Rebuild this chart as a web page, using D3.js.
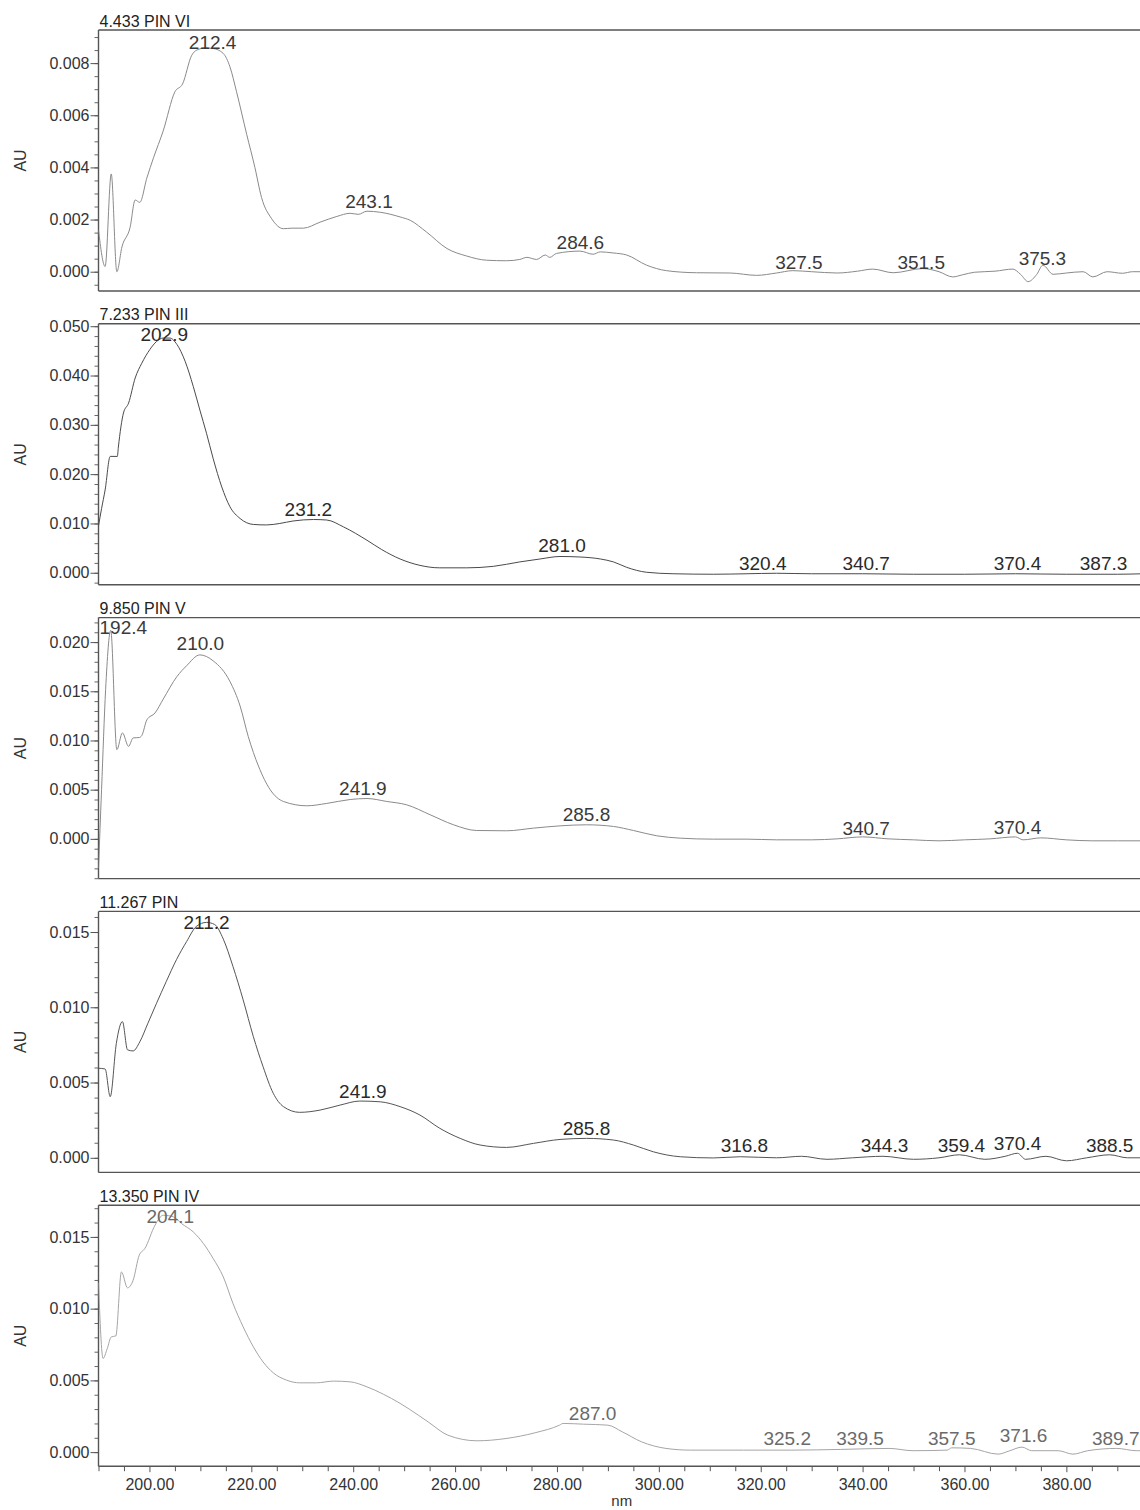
<!DOCTYPE html>
<html><head><meta charset="utf-8">
<script src="https://cdn.jsdelivr.net/npm/d3@7"></script>
<style>
html,body{margin:0;padding:0;background:#fff;}
svg{display:block;font-family:"Liberation Sans",Arial,sans-serif;}
</style></head><body>
<svg id="chart" width="1140" height="1510"></svg>
<script>
// ---------- DATA ----------
const panelTitles = ["4.433 PIN VI", "7.233 PIN III", "9.850 PIN V", "11.267 PIN", "13.350 PIN IV"];
const xTickLabels = [200, 220, 240, 260, 280, 300, 320, 340, 360, 380];
const xAxisTitle = "nm";
const yAxisTitle = "AU";

const yTicks1 = [0, 0.002, 0.004, 0.006, 0.008];
const yTicks2 = [0, 0.01, 0.02, 0.03, 0.04, 0.05];
const yTicks3 = [0, 0.005, 0.010, 0.015, 0.020];
const yTicks4 = [0, 0.005, 0.010, 0.015];
const yTicks5 = [0, 0.005, 0.010, 0.015];

const nm1 = [190.0,191.3,192.5,193.6,194.6,196.2,197.2,198.1,199.5,200.8,202.7,205.0,206.5,208.3,209.3,211.0,212.5,214.5,215.8,217.1,219.1,220.7,222.0,224.0,226.3,228.0,230.2,233.5,236.8,239.4,241.0,242.7,245.3,249.2,251.2,254.4,258.4,262.3,266.2,270.1,272.7,274.1,276.0,277.7,278.6,279.9,284.5,287.1,288.5,291.0,293.7,297.6,301.5,307.4,314.0,319.2,323.1,326.3,330,335,339,342,346,351.8,355,357.7,359.6,362,366,369.5,371,372.5,374.2,375.4,377.4,380,383.3,385.2,388,391,393,395];
const au1 = [0.0016,0.0002,0.00375,0.0,0.00095,0.0017,0.00275,0.00266,0.0036,0.00437,0.0054,0.0069,0.0072,0.0083,0.0085,0.00858,0.00856,0.00837,0.00786,0.0069,0.00526,0.0040,0.00285,0.00203,0.00165,0.00167,0.00167,0.0019,0.00212,0.00224,0.0022,0.00232,0.00228,0.0021,0.00197,0.00152,0.00089,0.0006,0.00044,0.00042,0.00047,0.00055,0.00047,0.00064,0.00055,0.0007,0.00079,0.00067,0.00076,0.00072,0.00064,0.00025,0.00004,-0.00004,-0.00005,-0.00014,-0.00005,0.00004,0.0,-0.00005,0.00002,0.0001,-0.00004,0.00012,0.0,-0.0002,-0.00012,-0.00002,0.00002,0.0001,-0.0001,-0.00038,-0.0001,0.00025,-0.0001,-0.00005,0.0,-0.0002,0.0,-0.00006,0.0,0.0];
const peakNm1 = [212.4, 243.1, 284.6, 327.5, 351.5, 375.3];
const peakAu1 = [0.00847, 0.00238, 0.00081, 0.00002, 0.00002, 0.00018];

const nm2 = [190.0,190.6,191.3,192.3,193.7,193.9,194.9,195.9,197.2,198.5,200.1,201.4,202.7,204.0,205.4,207.0,208.6,209.9,211.2,212.5,214.2,215.8,217.8,220.4,223.0,225.6,228.2,232.2,234.8,238.1,242.7,245.6,249.2,253.1,257.0,262.3,267.5,272.7,276.7,280.6,284.5,288.5,291.1,293.7,297.6,302.8,310.7,317.3,323.1,330,340,350,360,370,380,390,395];
const au2 = [0.0095,0.013,0.0168,0.0236,0.0236,0.0255,0.0324,0.0344,0.0395,0.0425,0.0453,0.0469,0.0476,0.0476,0.0463,0.0429,0.0378,0.0330,0.0283,0.0232,0.0174,0.0134,0.0110,0.0098,0.0097,0.0100,0.0105,0.0108,0.0107,0.0093,0.0066,0.0047,0.0028,0.0015,0.0010,0.0010,0.0013,0.0022,0.0028,0.0033,0.0032,0.0028,0.0022,0.0011,0.0001,-0.0002,-0.0003,-0.0002,-0.0001,-0.0002,-0.0002,-0.0003,-0.0003,-0.0002,-0.0003,-0.0003,-0.0002];
const peakNm2 = [202.9, 231.2, 281.0, 320.4, 340.7, 370.4, 387.3];
const peakAu2 = [0.04654, 0.0111, 0.00379, 0.00006, 0.00006, 0.00006, 0.00006];

const nm3 = [190.0,190.6,191.4,192.4,193.6,194.7,195.9,196.8,198.0,198.5,199.5,201.1,202.7,205.4,207.3,209.9,212.5,215.8,217.8,219.4,221.4,223.7,226.3,230.9,234.8,239.4,242.7,246.6,250.5,255.1,259.7,264.2,270.1,275.4,280.6,285.8,291.1,295.0,299.6,304.2,310.7,317.3,323.1,330,335,340,345,350,355,360,365,370,371.5,375,380,385,390,395];
const au3 = [-0.0030,0.0050,0.0152,0.0212,0.00907,0.01077,0.0094,0.01026,0.0103,0.0105,0.0121,0.0128,0.0142,0.0165,0.0176,0.0187,0.0181,0.0160,0.0135,0.0104,0.0074,0.0050,0.0038,0.00336,0.0036,0.0040,0.0041,0.0038,0.00346,0.00245,0.00143,0.00085,0.00082,0.00109,0.00132,0.00143,0.00126,0.00085,0.00031,0.00007,-0.00003,-0.00003,-0.0001,-0.0001,0.0,0.0002,0.0,-0.0001,-0.0002,-0.0001,0.0,0.0002,-0.0001,0.0001,-0.0001,-0.0002,-0.0002,-0.0002];
const peakNm3 = [192.4, 210.0, 241.9, 285.8, 340.7, 370.4];
const peakAu3 = [0.02058, 0.01898, 0.00428, 0.00163, 0.0002, 0.00025];

const nm4 = [190.0,191.3,192.3,193.5,194.7,195.7,196.8,198.1,199.7,201.4,203.3,205.3,207.3,209.2,211.2,212.8,214.5,216.4,218.4,220.4,222.3,224.3,226.3,229.5,233.5,237.4,241.3,245.3,249.2,253.1,257.0,261.0,264.9,270.1,275.4,280.6,285.8,291.1,295.0,298.9,304.2,310.7,316.0,323.1,328,333,338,344,350,355,359,364,368,370.4,372,376,380,384,388.5,392,395];
const au4 = [0.00595,0.0059,0.00406,0.0076,0.00905,0.00717,0.0071,0.0077,0.00894,0.01027,0.01171,0.01316,0.01437,0.01537,0.01564,0.0155,0.01453,0.01271,0.01049,0.00805,0.00606,0.00429,0.0034,0.00302,0.00317,0.0035,0.00377,0.00372,0.0034,0.00284,0.00196,0.00129,0.00085,0.00069,0.00096,0.00122,0.00129,0.00118,0.00085,0.0004,0.00007,-0.00001,0.00007,0.0,0.0001,-0.0001,0.0,0.0001,-0.0001,0.0,0.0002,-0.0001,0.0001,0.0003,-0.0001,0.0001,-0.0002,0.0,0.0002,0.0,0.0];
const peakNm4 = [211.2, 241.9, 285.8, 316.8, 344.3, 359.4, 370.4, 388.5];
const peakAu4 = [0.01507, 0.00382, 0.00138, 0.00027, 0.00027, 0.00027, 0.00037, 0.00027];

const nm5 = [190.0,190.9,191.7,192.5,193.4,194.5,195.7,196.8,198.0,199.1,201.1,202.7,204.7,206.3,208.6,210.6,212.5,214.5,216.4,218.4,220.4,222.3,224.3,226.9,229.5,232.8,236.1,239.4,242.7,245.9,249.2,251.0,254.7,258.6,264.3,270.0,275.7,280.5,281.2,285.2,290.0,292.8,296.6,301.4,306.2,316.6,326.1,335.7,345.2,349.9,356.6,357.5,361.2,366.6,368.9,371.3,373.2,378.4,381.3,384.2,389.9,393.7,395];
const au5 = [0.0118,0.00653,0.0072,0.00803,0.0081,0.01256,0.01145,0.01198,0.01373,0.01419,0.01582,0.01651,0.0164,0.01593,0.01535,0.01454,0.0135,0.01221,0.01036,0.00873,0.00734,0.00629,0.00553,0.00502,0.00483,0.00483,0.00495,0.0049,0.00455,0.00404,0.0034,0.0030,0.00211,0.00118,0.00079,0.00095,0.00135,0.00188,0.0020,0.00195,0.00188,0.00142,0.00072,0.00026,0.00014,0.00014,0.00014,0.00019,0.00026,0.0001,0.00014,0.0003,0.00026,-0.00014,0.0001,0.00035,0.0001,0.0001,-0.00014,0.0001,0.00026,0.0001,0.0001];
const peakNm5 = [204.1, 287.0, 325.2, 339.5, 357.5, 371.6, 389.7];
const peakAu5 = [0.01586, 0.00209, 0.00035, 0.00035, 0.00035, 0.00058, 0.00035];

// ---------- LAYOUT ----------
const svg = d3.select("#chart");
const plotLeft = 98.5, pxPerNm = 5.094;
const x = d3.scaleLinear().domain([190, 395]).range([plotLeft, plotLeft + 205 * pxPerNm]);
const panelTop0 = 30, panelStep = 293.8, panelH = 261;

const panels = [
  {title: panelTitles[0], nm: nm1, au: au1, pk: peakNm1, pa: peakAu1, ticks: yTicks1, dom: [-0.00074, 0.00927], minor: 0.0005, stroke: "#8a8a8a", lab: "#3a3a3a"},
  {title: panelTitles[1], nm: nm2, au: au2, pk: peakNm2, pa: peakAu2, ticks: yTicks2, dom: [-0.00244, 0.05049], minor: 0.002, stroke: "#4a4a4a", lab: "#2a2a2a"},
  {title: panelTitles[2], nm: nm3, au: au3, pk: peakNm3, pa: peakAu3, ticks: yTicks3, dom: [-0.00404, 0.02249], minor: 0.001, stroke: "#8a8a8a", lab: "#3a3a3a"},
  {title: panelTitles[3], nm: nm4, au: au4, pk: peakNm4, pa: peakAu4, ticks: yTicks4, dom: [-0.00097, 0.01637], minor: 0.001, stroke: "#555", lab: "#2a2a2a"},
  {title: panelTitles[4], nm: nm5, au: au5, pk: peakNm5, pa: peakAu5, ticks: yTicks5, dom: [-0.00098, 0.01721], minor: 0.001, stroke: "#a5a5a5", lab: "#6a6a6a"}
];

panels.forEach((p, i) => {
  const top = panelTop0 + i * panelStep, bottom = top + panelH;
  const y = d3.scaleLinear().domain(p.dom).range([bottom, top]);
  const g = svg.append("g");

  // frame
  g.append("line").attr("x1", plotLeft).attr("x2", 1145).attr("y1", top).attr("y2", top)
    .attr("stroke", "#555").attr("stroke-width", 1.4);
  g.append("line").attr("x1", plotLeft).attr("x2", 1145).attr("y1", bottom).attr("y2", bottom)
    .attr("stroke", "#555").attr("stroke-width", 1.4);

  // minor y ticks
  const minorVals = d3.range(Math.ceil(p.dom[0] / p.minor) * p.minor, p.dom[1], p.minor);
  const minorAxis = d3.axisLeft(y).tickValues(minorVals).tickSize(4).tickFormat("");
  const gm = g.append("g").attr("transform", `translate(${plotLeft},0)`).call(minorAxis);
  gm.select(".domain").remove();
  gm.selectAll("line").attr("stroke", "#666");

  // major y axis
  const yAxis = d3.axisLeft(y).tickValues(p.ticks).tickFormat(d3.format(".3f")).tickSize(8).tickPadding(1);
  const ga = g.append("g").attr("transform", `translate(${plotLeft},0)`).call(yAxis);
  ga.select(".domain").attr("d", `M0,${top}V${bottom}`).attr("stroke", "#555").attr("stroke-width", 1.4);
  ga.selectAll(".tick line").attr("stroke", "#555");
  ga.selectAll(".tick text").attr("font-size", 16).attr("fill", "#333")
    .attr("font-family", "Liberation Sans, Arial, sans-serif");

  // AU title
  g.append("text").attr("transform", `translate(26,${(top + bottom) / 2}) rotate(-90)`)
    .attr("text-anchor", "middle").attr("font-size", 16).attr("fill", "#333").text(yAxisTitle);

  // panel title
  g.append("text").attr("x", plotLeft + 1).attr("y", top - 3.5).attr("font-size", 16)
    .attr("fill", "#222").text(p.title);

  // trace
  const pts = p.nm.map((v, k) => [v, p.au[k]]);
  const line = d3.line().x(d => x(d[0])).y(d => y(d[1])).curve(d3.curveMonotoneX);
  const clipId = "clip" + i;
  g.append("clipPath").attr("id", clipId).append("rect")
    .attr("x", plotLeft).attr("y", top).attr("width", 1145 - plotLeft).attr("height", panelH);
  g.append("path").datum(pts).attr("d", line).attr("fill", "none")
    .attr("stroke", p.stroke).attr("stroke-width", 1).attr("clip-path", `url(#${clipId})`);

  // peak labels
  p.pk.forEach((nmv, k) => {
    const t = g.append("text").attr("x", x(nmv)).attr("y", y(p.pa[k]) - 2)
      .attr("text-anchor", "middle").attr("font-size", 19).attr("fill", p.lab)
      .text(d3.format(".1f")(nmv));
    const w = t.node().getComputedTextLength();
    if (x(nmv) - w / 2 < plotLeft + 1) {
      t.attr("text-anchor", "start").attr("x", plotLeft + 1);
    }
  });

  // bottom x axis on last panel
  if (i === panels.length - 1) {
    const minorX = d3.range(190, 395, 5).filter(v => v % 20 !== 0);
    const gx1 = g.append("g").attr("transform", `translate(0,${bottom})`)
      .call(d3.axisBottom(x).tickValues(minorX).tickSize(5).tickFormat(""));
    gx1.select(".domain").remove();
    gx1.selectAll("line").attr("stroke", "#555");
    const gx = g.append("g").attr("transform", `translate(0,${bottom})`)
      .call(d3.axisBottom(x).tickValues(xTickLabels).tickSize(6).tickPadding(6).tickFormat(d3.format(".2f")));
    gx.select(".domain").remove();
    gx.selectAll(".tick line").attr("stroke", "#555");
    gx.selectAll(".tick text").attr("font-size", 16).attr("fill", "#333")
      .attr("font-family", "Liberation Sans, Arial, sans-serif");
    g.append("text").attr("x", (plotLeft + 1145) / 2).attr("y", bottom + 40)
      .attr("text-anchor", "middle").attr("font-size", 15).attr("fill", "#333").text(xAxisTitle);
  }
});
</script>
</body></html>
